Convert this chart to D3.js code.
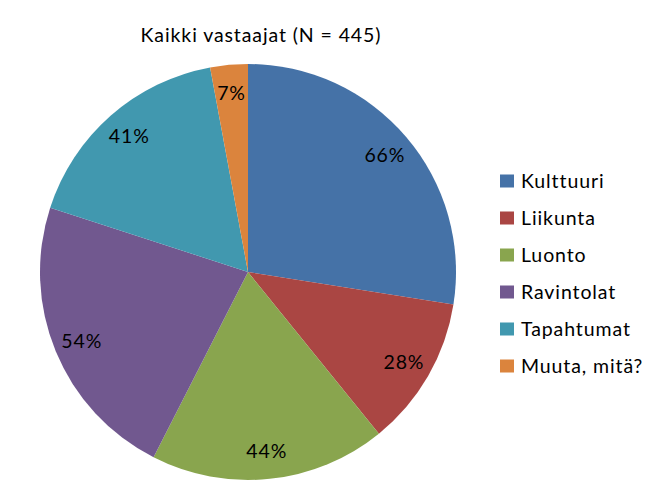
<!DOCTYPE html>
<html>
<head>
<meta charset="utf-8">
<script src="https://cdnjs.cloudflare.com/ajax/libs/d3/7.8.5/d3.min.js"></script>
<style>
  body { margin: 0; background: #fff; }
  text { font-family: Lato, "Open Sans", sans-serif; fill: #000; letter-spacing: 0.9px; }
</style>
</head>
<body>
<div id="chart"></div>
<script>
const svgWidth = 663;
const svgHeight = 488;

const title = "Kaikki vastaajat (N = 445)";
const categories = ["Kulttuuri", "Liikunta", "Luonto", "Ravintolat", "Tapahtumat", "Muuta, mitä?"];
const values = [66, 28, 44, 54, 41, 7];
const colors = ["#4572A7", "#AA4643", "#89A54E", "#71588F", "#4198AF", "#DB843D"];

const cx = 248;
const cy = 272;
const radius = 208;
const fontSize = 19.5;

const data = categories.map((c, i) => ({ name: c, value: values[i], color: colors[i] }));

const svg = d3.select("#chart").append("svg")
    .attr("width", svgWidth)
    .attr("height", svgHeight);

svg.append("text")
    .attr("x", 261)
    .attr("y", 42)
    .attr("text-anchor", "middle")
    .attr("font-size", fontSize)
    .text(title);

const pie = d3.pie()
    .sort(null)
    .value(d => d.value);

const arc = d3.arc()
    .innerRadius(0)
    .outerRadius(radius);

const labelArc = d3.arc()
    .innerRadius(180)
    .outerRadius(180);

const pieGroup = svg.append("g")
    .attr("transform", `translate(${cx}, ${cy})`);

const arcs = pie(data);

pieGroup.selectAll("path")
    .data(arcs)
    .enter()
    .append("path")
    .attr("d", arc)
    .attr("fill", d => d.data.color);

pieGroup.selectAll("text")
    .data(arcs)
    .enter()
    .append("text")
    .attr("transform", d => `translate(${labelArc.centroid(d)})`)
    .attr("text-anchor", "middle")
    .attr("dy", "0.35em")
    .attr("font-size", fontSize)
    .text(d => d.data.value + "%");

const legendY = d3.scalePoint()
    .domain(categories)
    .range([181, 366]);

const legend = svg.append("g");

const rows = legend.selectAll("g")
    .data(data)
    .enter()
    .append("g")
    .attr("transform", d => `translate(500, ${legendY(d.name)})`);

rows.append("rect")
    .attr("x", 0)
    .attr("y", -6.5)
    .attr("width", 14)
    .attr("height", 13)
    .attr("fill", d => d.color);

rows.append("text")
    .attr("x", 21)
    .attr("dy", "0.35em")
    .attr("font-size", fontSize)
    .text(d => d.name);
</script>
</body>
</html>
